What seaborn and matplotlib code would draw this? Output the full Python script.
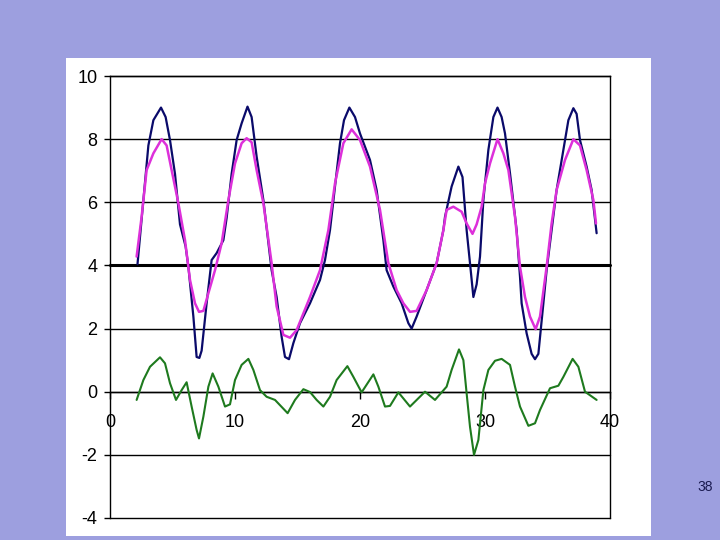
import matplotlib
matplotlib.use("Agg")
import matplotlib.pyplot as plt
from matplotlib.patches import Rectangle
import seaborn as sns
import pandas as pd

# ---- data ----
navy_x = [2.2, 2.67, 3.07, 3.47, 4.08, 4.45, 4.8, 5.2, 5.6, 6.05, 6.27, 6.67, 6.93, 7.15, 7.33,
          7.73, 8.13, 8.53, 9.07, 9.33, 9.73, 10.13, 10.53, 11.0, 11.33, 11.73, 12.27, 12.93,
          13.33, 13.73, 14.0, 14.32, 14.67, 15.2, 16.0, 16.8, 17.2, 17.6, 18.0, 18.4, 18.72,
          19.15, 19.6, 20.0, 20.8, 21.33, 21.87, 22.13, 22.67, 23.33, 23.87, 24.13, 24.53,
          25.33, 26.13, 26.67, 26.8, 27.33, 27.87, 28.2, 28.53, 28.8, 29.07, 29.33, 29.6,
          29.87, 30.27, 30.67, 31.0, 31.33, 31.6, 32.0, 32.53, 32.8, 32.93, 33.33, 33.73,
          34.0, 34.27, 34.67, 34.93, 35.33, 35.73, 36.27, 36.67, 37.07, 37.33, 37.6, 38.13,
          38.53, 38.93]
navy_y = [4.04, 6.07, 7.8, 8.6, 9.0, 8.7, 7.97, 6.9, 5.3, 4.6, 3.96, 2.38, 1.1, 1.07, 1.3,
          2.8, 4.17, 4.39, 4.8, 5.5, 6.9, 7.97, 8.5, 9.03, 8.7, 7.45, 6.07, 3.85,
          3.0, 1.74, 1.1, 1.03, 1.54, 2.17, 2.8, 3.54, 4.17, 5.12, 6.5, 7.87, 8.6,
          9.0, 8.7, 8.18, 7.34, 6.39, 4.8, 3.85, 3.33, 2.8, 2.17, 2.0, 2.38,
          3.22, 4.07, 5.12, 5.54, 6.5, 7.13, 6.8, 5.12, 4.07, 3.0, 3.4, 4.28,
          6.07, 7.66, 8.7, 9.0, 8.7, 8.18, 6.92, 5.12, 3.64, 2.8, 1.85, 1.2,
          1.03, 1.2, 2.8, 3.85, 5.12, 6.39, 7.66, 8.6, 8.98, 8.8, 7.97, 7.13,
          6.39, 5.02]

magenta_x = [2.13, 2.53, 2.93, 3.47, 4.13, 4.53, 4.93, 5.47, 6.0, 6.4, 6.8, 7.12, 7.47, 7.87,
             8.4, 8.93, 9.47, 10.0, 10.53, 10.93, 11.33, 11.73, 12.27, 12.93, 13.33, 13.87,
             14.4, 14.93, 16.0, 16.8, 17.47, 18.0, 18.67, 19.33, 20.0, 20.8, 21.6, 22.27,
             22.93, 23.47, 24.0, 24.53, 25.33, 26.13, 26.67, 26.93, 27.47, 28.13, 28.53,
             29.0, 29.33, 29.73, 30.0, 30.4, 31.0, 31.47, 31.87, 32.4, 32.8, 33.2, 33.6,
             34.05, 34.4, 34.93, 35.33, 35.73, 36.4, 37.07, 37.6, 38.13, 38.67, 38.88]
magenta_y = [4.28, 5.54, 7.02, 7.55, 8.0, 7.8, 7.02, 5.97, 4.8, 3.54, 2.8, 2.53, 2.56, 3.12,
             3.85, 4.7, 6.07, 7.23, 7.87, 8.03, 7.9, 7.02, 5.97, 4.07, 2.7, 1.8,
             1.71, 1.95, 3.0, 3.85, 5.12, 6.6, 7.87, 8.31, 7.97, 7.13, 5.76, 4.07,
             3.22, 2.8, 2.53, 2.56, 3.22, 4.07, 5.12, 5.76, 5.86, 5.7, 5.33,
             5.0, 5.3, 5.86, 6.6, 7.23, 8.0, 7.55, 7.02, 5.54, 3.96, 3.0, 2.38,
             1.98, 2.38, 3.96, 5.33, 6.39, 7.34, 8.0, 7.8, 7.02, 6.07, 5.33]

green_x = [2.13, 2.67, 3.2, 4.0, 4.4, 4.8, 5.28, 5.73, 6.13, 6.53, 6.93, 7.12, 7.47, 7.87,
           8.21, 8.67, 9.2, 9.6, 10.0, 10.53, 11.07, 11.47, 12.0, 12.53, 13.2, 14.21, 14.8,
           15.47, 16.0, 16.53, 17.07, 17.6, 18.13, 18.99, 19.47, 20.13, 21.07, 21.47, 22.0,
           22.4, 23.07, 24.0, 25.2, 26.0, 26.93, 27.33, 27.92, 28.27, 28.53, 28.8, 29.12,
           29.47, 29.87, 30.27, 30.8, 31.33, 32.0, 32.4, 32.8, 33.47, 34.0, 34.4, 35.2,
           35.87, 36.27, 37.01, 37.47, 38.0, 38.93]
green_y = [-0.26, 0.37, 0.79, 1.09, 0.9, 0.27, -0.26, 0.05, 0.3, -0.47, -1.21, -1.48, -0.79, 0.16,
           0.58, 0.16, -0.47, -0.4, 0.37, 0.85, 1.04, 0.69, 0.05, -0.16, -0.26, -0.68, -0.26,
           0.08, -0.01, -0.26, -0.47, -0.16, 0.37, 0.81, 0.47, -0.02, 0.55, 0.16, -0.47,
           -0.45, -0.02, -0.47, 0.0, -0.26, 0.16, 0.69, 1.34, 1.0, -0.05, -1.11, -2.0,
           -1.53, 0.05, 0.69, 0.98, 1.04, 0.85, 0.16, -0.47, -1.08, -1.0, -0.58, 0.11,
           0.19, 0.47, 1.04, 0.79, 0.0, -0.26]

x_ticks = [0, 10, 20, 30, 40]
y_ticks = [-4, -2, 0, 2, 4, 6, 8, 10]
page_number = "38"

# ---- styling ----
sns.set_theme(style="white")
plt.rcParams['font.family'] = ['Liberation Sans', 'DejaVu Sans']

BG = "#9D9FDF"
fig = plt.figure(figsize=(7.2, 5.4), dpi=100)
fig.patch.set_facecolor(BG)
panel = Rectangle((66 / 720, 1 - 536 / 540), (651 - 66) / 720, (536 - 58) / 540,
                  transform=fig.transFigure, facecolor="white", edgecolor="none", zorder=-10)
fig.patches.append(panel)

ax = fig.add_axes([110 / 720, 1 - 518 / 540, 500 / 720, 442 / 540])
ax.set_zorder(5)
ax.set_facecolor("white")

for yv in y_ticks:
    ax.axhline(yv, color="black", lw=2.2 if yv == 4 else 1.0, zorder=1, clip_on=False)

df_n = pd.DataFrame({"x": navy_x, "y": navy_y})
df_m = pd.DataFrame({"x": magenta_x, "y": magenta_y})
df_g = pd.DataFrame({"x": green_x, "y": green_y})
sns.lineplot(data=df_n, x="x", y="y", ax=ax, color="#0A0A6A", lw=1.6, sort=False, zorder=3)
sns.lineplot(data=df_m, x="x", y="y", ax=ax, color="#DD30DA", lw=1.8, sort=False, zorder=4)
sns.lineplot(data=df_g, x="x", y="y", ax=ax, color="#1E7A1E", lw=1.5, sort=False, zorder=3)

ax.set_xlim(0, 40)
ax.set_ylim(-4, 10)
ax.set_xlabel("")
ax.set_ylabel("")

for s in ["left", "right", "top"]:
    ax.spines[s].set_visible(True)
    ax.spines[s].set_color("black")
    ax.spines[s].set_linewidth(1.0)
ax.spines["bottom"].set_position(("data", 0))
ax.spines["bottom"].set_color("black")
ax.spines["bottom"].set_linewidth(1.0)

ax.set_xticks(x_ticks)
ax.set_xticklabels([str(v) for v in x_ticks])
ax.set_yticks(y_ticks)
ax.set_yticklabels([str(v) for v in y_ticks])
ax.tick_params(axis="x", direction="out", length=5, width=1, color="black", pad=11,
               labelsize=13, labelcolor="black", bottom=True)
ax.tick_params(axis="y", direction="out", length=4, width=1, color="black", pad=5,
               labelsize=13, labelcolor="black", left=True)

fig.text(713 / 720, 1 - 487 / 540, page_number, ha="right", va="center",
         fontsize=10, color="#1A1A50")

fig.savefig("out.png", dpi=100, facecolor=fig.get_facecolor())
